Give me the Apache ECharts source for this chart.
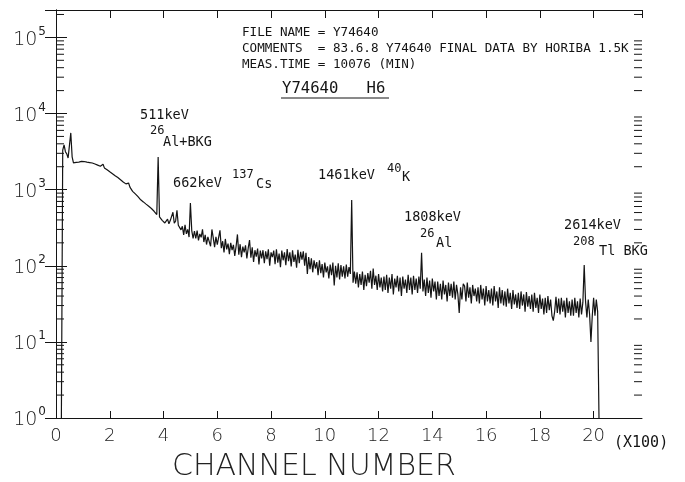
<!DOCTYPE html>
<html><head><meta charset="utf-8">
<script src="https://cdn.jsdelivr.net/npm/echarts/dist/echarts.min.js"></script>
<style>html,body{margin:0;padding:0;background:#fff}#c{width:685px;height:482px}</style>
</head><body><div id="c"></div>
<script>
// Channel axis in units of 100 channels; spectrum sampled every 5 channels
const chStart = 0.20;
const chStep = 0.05;
const counts = [
  1, 3300, 3870, 3150, 2950, 2600, 2750, 5560, 2700, 2250,
  2220, 2280, 2310, 2300, 2340, 2350, 2330, 2340, 2310, 2300,
  2280, 2270, 2240, 2240, 2200, 2170, 2140, 2100, 2070, 2030,
  1990, 2150, 1930, 1880, 1830, 1770, 1720, 1670, 1620, 1580,
  1520, 1480, 1440, 1390, 1350, 1300, 1260, 1230, 1190, 1150,
  1220, 1080, 1020, 950, 910, 880, 850, 810, 770, 735,
  710, 690, 665, 645, 625, 605, 590, 565, 545, 520,
  495, 470, 2690, 440, 425, 395, 385, 365, 382, 410,
  355, 392, 405, 505, 362, 388, 535, 340, 328, 296,
  330, 255, 345, 262, 300, 238, 668, 290, 228, 286,
  228, 290, 215, 262, 236, 300, 205, 255, 190, 240,
  250, 180, 300, 232, 176, 240, 190, 236, 292, 170,
  210, 150, 225, 164, 196, 142, 200, 160, 188, 135,
  180, 258, 140, 192, 130, 178, 150, 185, 125, 170,
  218, 128, 175, 112, 160, 132, 168, 104, 158, 125,
  160, 108, 155, 122, 164, 100, 150, 130, 158, 105,
  165, 110, 145, 96, 158, 118, 150, 102, 166, 115,
  150, 98, 160, 112, 140, 94, 162, 108, 152, 120,
  155, 100, 148, 78, 130, 90, 125, 82, 118, 92,
  112, 75, 118, 80, 105, 70, 110, 82, 98, 68,
  104, 75, 110, 55, 100, 70, 108, 66, 102, 72,
  98, 68, 104, 72, 96, 78, 732, 60, 84, 58,
  82, 52, 78, 56, 84, 48, 76, 54, 80, 60,
  86, 50, 92, 56, 74, 48, 78, 52, 70, 46,
  72, 48, 76, 44, 70, 50, 78, 42, 68, 52,
  74, 46, 70, 40, 72, 50, 66, 44, 76, 48,
  70, 42, 74, 48, 68, 44, 72, 50, 148, 46,
  66, 40, 70, 44, 64, 38, 68, 46, 62, 36,
  62, 40, 58, 36, 64, 42, 56, 34, 60, 40,
  58, 38, 62, 36, 56, 42, 24, 52, 36, 58,
  54, 34, 60, 38, 52, 32, 56, 40, 50, 34,
  52, 32, 56, 36, 50, 30, 54, 34, 48, 32,
  50, 30, 54, 34, 46, 28, 52, 32, 48, 30,
  46, 29, 50, 32, 44, 27, 48, 31, 42, 28,
  44, 27, 46, 30, 42, 25, 45, 29, 40, 27,
  42, 25, 44, 28, 38, 24, 42, 27, 37, 23,
  38, 24, 40, 26, 36, 22, 19, 25, 39, 24,
  37, 23, 38, 25, 35, 21, 38, 24, 34, 22,
  36, 22, 38, 24, 34, 21, 37, 23, 33, 102,
  34, 21, 36, 23, 10, 22, 38, 22, 36, 25,
  1
];
const xMin = 0, xMax = 21.8, xInterval = 2;
const yMin = 1, yMax = 229000;
const minorTickValues = [
  2,3,4,5,6,7,8,9,
  20,30,40,50,60,70,80,90,
  200,300,400,500,600,700,800,900,
  2000,3000,4000,5000,6000,7000,8000,9000,
  20000,30000,40000,50000,60000,70000,80000,90000,
  200000
];
const headerLines = [
  'FILE NAME = Y74640',
  'COMMENTS  = 83.6.8 Y74640 FINAL DATA BY HORIBA 1.5K',
  'MEAS.TIME = 10076 (MIN)'
];
const titleText = 'Y74640   H6';
const xUnitText = '(X100)';
const xName = 'CHANNEL NUMBER';

const spectrum = counts.map((c, i) => [+(chStart + i * chStep).toFixed(2), c]);
const mono = "'DejaVu Sans Mono', 'Liberation Mono', monospace";
const thin = "'DejaVu Sans', sans-serif";
const ink = '#141414';

function txt(text, x, y, size, family) {
  return { type: 'text', x: x, y: y, style: { text: text, fill: ink, font: size + 'px ' + (family || mono), textVerticalAlign: 'middle', verticalAlign: 'middle' } };
}

const chart = echarts.init(document.getElementById('c'), null, { renderer: 'canvas' });
chart.setOption({
  animation: false,
  backgroundColor: '#fff',
  grid: { left: 56, right: 43, top: 10, bottom: 64, outerBoundsMode: 'none', containLabel: false },
  xAxis: [
    { type: 'value', min: xMin, max: xMax, interval: xInterval, position: 'bottom',
      axisLine: { lineStyle: { color: ink, width: 1 } },
      axisTick: { inside: true, length: 7, lineStyle: { color: ink } },
      axisLabel: { showMaxLabel: false, margin: 9, fontSize: 18, fontFamily: thin, fontWeight: 200, color: '#222' },
      splitLine: { show: false } },
    { type: 'value', min: xMin, max: xMax, interval: xInterval, position: 'top',
      axisLine: { lineStyle: { color: ink, width: 1 } },
      axisTick: { inside: true, length: 8, lineStyle: { color: ink } },
      axisLabel: { show: false }, splitLine: { show: false } }
  ],
  yAxis: [
    { type: 'log', logBase: 10, min: yMin, max: yMax, position: 'left',
      axisLine: { lineStyle: { color: ink, width: 1 } },
      axisTick: { inside: true, length: 11, lineStyle: { color: ink } },
      axisLabel: { showMaxLabel: false, margin: 10,
        formatter: v => '{b|10}{s|' + Math.round(Math.log10(v)) + '}',
        rich: { b: { fontSize: 19, fontFamily: thin, fontWeight: 200, color: '#222', lineHeight: 24, verticalAlign: 'bottom' },
                s: { fontSize: 12, fontFamily: thin, color: '#222', lineHeight: 24, verticalAlign: 'top', padding: [0, 0, 0, 1] } } },
      splitLine: { show: false } },
    { type: 'log', logBase: 10, min: yMin, max: yMax, position: 'right',
      axisLine: { lineStyle: { color: ink, width: 1 } },
      axisTick: { inside: true, length: 11, lineStyle: { color: ink } },
      axisLabel: { show: false }, splitLine: { show: false } }
  ],
  series: [
    { type: 'line', data: spectrum, xAxisIndex: 0, yAxisIndex: 0, showSymbol: false, symbol: 'none',
      lineStyle: { color: ink, width: 1.2 }, clip: true, silent: true },
    { type: 'custom', xAxisIndex: 0, yAxisIndex: 0, silent: true,
      data: minorTickValues.map(v => [xMin, v]),
      encode: { x: 0, y: 1 },
      renderItem: function (params, api) {
        const v = api.value(1);
        const pl = api.coord([xMin, v]);
        const pr = api.coord([xMax, v]);
        const st = { stroke: ink, lineWidth: 1 };
        return { type: 'group', children: [
          { type: 'line', shape: { x1: pl[0], y1: pl[1], x2: pl[0] + 8, y2: pl[1] }, style: st },
          { type: 'line', shape: { x1: pr[0], y1: pr[1], x2: pr[0] - 8, y2: pr[1] }, style: st }
        ] };
      } }
  ],
  graphic: [
    txt(headerLines[0], 242, 33, 12.6),
    txt(headerLines[1], 242, 49, 12.6),
    txt(headerLines[2], 242, 65, 12.6),
    txt(titleText, 282, 89, 15.6),
    { type: 'line', shape: { x1: 281, y1: 98, x2: 389, y2: 98 }, style: { stroke: ink, lineWidth: 1 } },
    txt('511keV', 140, 115, 13.5),
    txt('26', 150, 131, 12),
    txt('Al+BKG', 163, 142, 13.5),
    txt('662keV', 173, 183, 13.5),
    txt('137', 232, 175, 12),
    txt('Cs', 256, 184, 13.5),
    txt('1461keV', 318, 175, 13.5),
    txt('40', 387, 169, 12),
    txt('K', 402, 177, 13.5),
    txt('1808keV', 404, 217, 13.5),
    txt('26', 420, 234, 12),
    txt('Al', 436, 243, 13.5),
    txt('2614keV', 564, 225, 13.5),
    txt('208', 573, 242, 12),
    txt('Tl BKG', 599, 251, 13.5),
    txt(xUnitText, 614, 443, 15),
    { type: 'text', x: 314, y: 467, style: { text: xName, fill: '#222', font: '200 30px ' + thin, textAlign: 'center', align: 'center', textVerticalAlign: 'middle', verticalAlign: 'middle' } }
  ]
});
</script></body></html>
